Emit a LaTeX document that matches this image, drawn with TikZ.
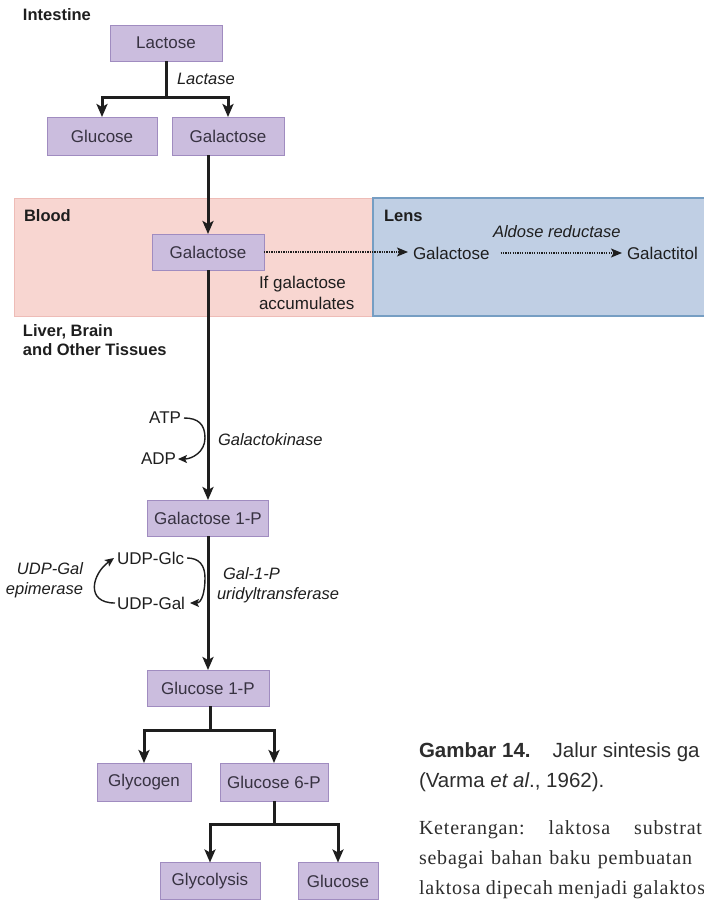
\documentclass[tikz,border=0pt]{standalone}
\usepackage{fontspec}
\setmainfont{Liberation Sans}
\newfontfamily\capserif{Liberation Serif}[LetterSpace=4]
\usetikzlibrary{arrows.meta}
\definecolor{boxfill}{RGB}{203,189,222}
\definecolor{boxline}{RGB}{160,140,192}
\definecolor{bloodfill}{RGB}{248,214,209}
\definecolor{bloodline}{RGB}{238,188,183}
\definecolor{lensfill}{RGB}{192,207,228}
\definecolor{lensline}{RGB}{118,158,195}
\definecolor{ink}{RGB}{30,30,30}
\definecolor{boxink}{RGB}{55,50,65}
\definecolor{capink}{RGB}{45,45,45}
\frenchspacing
\begin{document}
\begin{tikzpicture}[x=1pt,y=-1pt,
  every node/.style={inner sep=0pt, outer sep=0pt, text=ink},
  mol/.style={draw=boxline, fill=boxfill, line width=1pt, text=boxink,
              font=\fontsize{17}{20}\selectfont},
  lbl/.style={font=\fontsize{16.5}{19}\selectfont\bfseries, anchor=west, align=left},
  enz/.style={font=\fontsize{16.5}{20}\selectfont\itshape},
  plain/.style={font=\fontsize{17}{21}\selectfont},
  flow/.style={line width=3pt, draw=ink, line join=miter},
  flowarr/.style={flow, -{Stealth[length=13pt,width=11pt,inset=3pt]}},
  dotarr/.style={line width=1.3pt, draw=ink, dash pattern=on 1.3pt off 1.1pt,
                 -{Stealth[length=11pt,width=9pt,inset=2.5pt]}},
  curvearr/.style={line width=1.4pt, draw=ink, -{Stealth[length=9pt,width=8pt,inset=2pt]}},
  capsans/.style={font=\fontsize{20.5}{24}\selectfont, text=capink, anchor=west},
  capser/.style={font=\capserif\fontsize{20}{24}\selectfont, text=capink, anchor=west}]

\useasboundingbox (0,0) rectangle (704,903);
\clip (0,0) rectangle (704,903);
\fill[white] (0,0) rectangle (704,903);

% regions
\draw[draw=bloodline, fill=bloodfill, line width=1pt] (14,198) rectangle (373,316);
\draw[draw=lensline, fill=lensfill, line width=1.6pt] (373,198) rectangle (712,316);

% region labels
\node[lbl] (intestine) at (23,15) {Intestine};
\node[lbl] (blood) at (24,216) {Blood};
\node[lbl] (lens) at (384,216) {Lens};
\node[lbl] (liver) at (23,340.5) {Liver, Brain\\and Other Tissues};

% molecule boxes
\node[mol, minimum width=112pt, minimum height=36pt] (lac)   at (166,43)  {Lactose};
\node[mol, minimum width=110pt, minimum height=38pt] (glcA)  at (102,136) {Glucose};
\node[mol, minimum width=112pt, minimum height=38pt] (galA)  at (228,136) {Galactose};
\node[mol, minimum width=112pt, minimum height=36pt] (galB)  at (208,252) {Galactose};
\node[mol, minimum width=121pt, minimum height=36pt] (gal1p) at (208,518) {Galactose 1-P};
\node[mol, minimum width=122pt, minimum height=36pt] (g1p)   at (208,688) {Glucose 1-P};
\node[mol, minimum width=94pt,  minimum height=38pt] (glyg)  at (144,782) {Glycogen};
\node[mol, minimum width=108pt, minimum height=38pt] (g6p)   at (274,782) {Glucose 6-P};
\node[mol, minimum width=100pt, minimum height=37pt] (glys)  at (210,881) {Glycolysis};
\node[mol, minimum width=80pt,  minimum height=37pt] (glcB)  at (338,881) {Glucose};

% lens texts
\node[plain, anchor=west, inner xsep=5pt] (galL) at (408,253) {Galactose};
\node[plain, anchor=west, inner xsep=5pt] (galtol) at (622,253) {Galactitol};

% enzyme / side labels
\node[enz, anchor=west] (lactase) at (177,79) {Lactase};
\node[enz, anchor=west] (aldose) at (493,232) {Aldose reductase};
\node[plain, anchor=west, align=left] (ifgal) at (259,293) {If galactose\\accumulates};
\node[enz, anchor=west] (gkin) at (218,440) {Galactokinase};
\node[plain, anchor=east] (atp) at (181,418) {ATP};
\node[plain, anchor=east] (adp) at (176,459) {ADP};
\node[plain, anchor=west] (udpglc) at (117,558) {UDP-Glc};
\node[plain, anchor=west] (udpgal) at (117,603) {UDP-Gal};
\node[enz, anchor=east, align=right] (epim) at (83,580) {UDP-Gal\\epimerase};
\node[enz, anchor=west, align=left] (uridyl) at (217,585) {\hspace*{6pt}Gal-1-P\\uridyltransferase};

% junctions
\coordinate (j1) at (166,97);
\coordinate (j2) at (210,730);
\coordinate (j3) at (274,824);
\coordinate (k1) at (205,438);
\coordinate (k2) at (205,578);

% main flow
\draw[flow] (lac.south) -- (j1);
\draw[flowarr] (j1) -| (glcA.north);
\draw[flowarr] (j1) -| (galA.north);
\draw[flowarr] (galA.south -| galB.north) -- (galB.north);
\draw[flowarr] (galB.south) -- (gal1p.north);
\draw[flowarr] (gal1p.south) -- (g1p.north);
\draw[flow] (g1p.south -| j2) -- (j2);
\draw[flowarr] (j2) -| (glyg.north);
\draw[flowarr] (j2) -| (g6p.north);
\draw[flow] (g6p.south) -- (j3);
\draw[flowarr] (j3) -| (glys.north);
\draw[flowarr] (j3) -| (glcB.north);

% dotted arrows
\draw[dotarr] (galB.east) -- (galB.east -| galL.west);
\draw[dotarr, shorten <=6pt] (galL.east) -- (galtol.west);

% side curves
\draw[curvearr] ([xshift=3pt]atp.east) .. controls +(14,0) and +(0,-14) .. (k1)
  .. controls +(0,14) and +(14,0) .. ([xshift=2pt]adp.east);
\draw[curvearr] ([xshift=3pt]udpglc.east) .. controls +(12,0) and +(0,-13) .. (k2)
  .. controls +(0,13) and +(12,0) .. ([xshift=5pt]udpgal.east);
\draw[curvearr] ([xshift=-2pt]udpgal.west) .. controls +(-30,0) and +(-22,16) .. ([xshift=-3pt]udpglc.west);

% caption
\node[capsans] (cap1) at (419,752) {\textbf{Gambar 14.}\hspace*{22pt}Jalur sintesis ga};
\node[capsans] (cap2) at (419,782) {(Varma \textit{et al}., 1962).};
\node[capser] (cap3) at (419,830) {\makebox[283pt][s]{Keterangan: laktosa substrat}};
\node[capser] (cap4) at (419,860) {\makebox[273pt][s]{sebagai bahan baku pembuatan}};
\node[capser] (cap5) at (419,890) {\makebox[286pt][s]{laktosa dipecah menjadi galaktos}};
\end{tikzpicture}
\end{document}
